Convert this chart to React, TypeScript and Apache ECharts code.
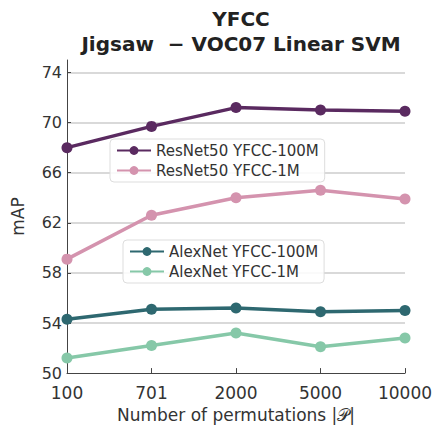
import React, { useEffect, useRef } from "react";
import * as echarts from "echarts";

const categories = ["100", "701", "2000", "5000", "10000"];
const resnet100M = [68.0, 69.7, 71.2, 71.0, 70.9];
const resnet1M = [59.1, 62.6, 64.0, 64.6, 63.9];
const alexnet100M = [54.3, 55.1, 55.2, 54.9, 55.0];
const alexnet1M = [51.2, 52.2, 53.2, 52.1, 52.8];
const seriesNames = ["ResNet50 YFCC-100M", "ResNet50 YFCC-1M", "AlexNet YFCC-100M", "AlexNet YFCC-1M"];
const colors = ["#5a2a60", "#d493ae", "#2e6870", "#86c8a8"];

const FONT = "DejaVu Sans";

export default function App() {
  const ref = useRef<HTMLDivElement>(null);
  useEffect(() => {
    const chart = echarts.init(ref.current!, null, { renderer: "svg" });
    const data = [resnet100M, resnet1M, alexnet100M, alexnet1M];
    const legendCommon = {
      orient: "vertical" as const,
      itemWidth: 34,
      itemHeight: 11,
      itemGap: 5,
      padding: [4, 6, 4, 6],
      backgroundColor: "rgba(255,255,255,0.85)",
      borderColor: "#dddddd",
      borderWidth: 1,
      borderRadius: 4,
      textStyle: { fontFamily: FONT, fontSize: 15, color: "#333" },
    };
    chart.setOption({
      animation: false,
      backgroundColor: "#ffffff",
      textStyle: { fontFamily: FONT },
      title: {
        text: "YFCC\nJigsaw  \u2212 VOC07 Linear SVM",
        left: 236,
        textAlign: "center",
        top: 1,
        textStyle: { fontFamily: FONT, fontSize: 20, fontWeight: "bold", color: "#222", lineHeight: 25 },
      },
      grid: { left: 67, right: 32, top: 60, bottom: 53 },
      legend: [
        { ...legendCommon, data: seriesNames.slice(0, 2), left: 110, top: 139 },
        { ...legendCommon, data: seriesNames.slice(2, 4), left: 123, top: 240 },
      ],
      xAxis: {
        type: "category",
        data: categories,
        boundaryGap: false,
        name: "Number of permutations |\u{1D4AB}|",
        nameLocation: "middle",
        nameGap: 32,
        nameTextStyle: { fontFamily: FONT, fontSize: 17, color: "#333" },
        axisLine: { lineStyle: { color: "#444", width: 1 } },
        axisTick: { inside: true, length: 5, lineStyle: { color: "#444" } },
        axisLabel: { fontFamily: FONT, fontSize: 17, color: "#333", margin: 11 },
        splitLine: { show: false },
      },
      yAxis: {
        type: "value",
        min: 50,
        max: 75,
        interval: 4,
        name: "mAP",
        nameLocation: "middle",
        nameGap: 41,
        nameRotate: 90,
        nameTextStyle: { fontFamily: FONT, fontSize: 17, color: "#333" },
        axisLine: { show: true, lineStyle: { color: "#444", width: 1 } },
        axisTick: { show: true, inside: true, length: 4, lineStyle: { color: "#444" } },
        axisLabel: { fontFamily: FONT, fontSize: 16, color: "#333", margin: 5, showMaxLabel: false },
        splitLine: { show: true, showMinLine: false, showMaxLine: false, lineStyle: { color: "#cccccc", width: 1.5 } },
      },
      series: seriesNames.map((name, i) => ({
        name,
        type: "line",
        data: data[i],
        symbol: "circle",
        symbolSize: 11,
        lineStyle: { width: 3.5, color: colors[i] },
        itemStyle: { color: colors[i] },
        z: 10 - i,
      })),
    });
    return () => chart.dispose();
  }, []);
  return <div ref={ref} style={{ width: 437, height: 428, position: "absolute", left: 0, top: 0 }} />;
}
